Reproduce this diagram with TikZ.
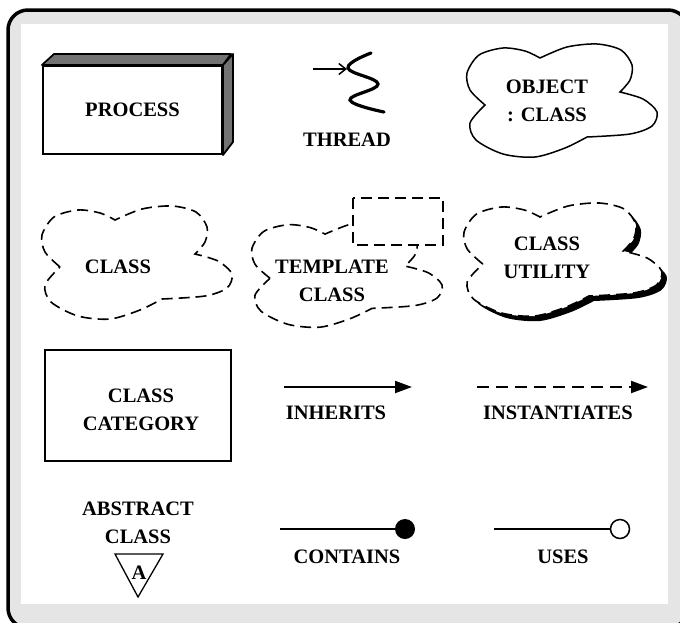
\documentclass[tikz,border=0pt]{standalone}
\usepackage{fontspec}
\setmainfont{Liberation Serif}
\usetikzlibrary{arrows.meta}

\tikzset{
    lbl/.style={font=\fontsize{20.5}{28}\selectfont\bfseries, align=center, inner sep=0pt},
    solidline/.style={line width=1.5pt},
    dashline/.style={line width=1.6pt, dash pattern=on 11pt off 6pt},
    booch cloud/.pic={
        \path[pic actions] plot[smooth] coordinates {(20,62) (5,47) (2,30) (14,12) (38,5) (60,8) (75,15)}
            -- plot[smooth] coordinates {(75,15) (102,4) (132,1) (156,7) (167,22) (165,37) (155,49)}
            -- plot[smooth] coordinates {(155,49) (178,56) (192,69) (187,83) (165,91) (122,94)}
            -- plot[smooth] coordinates {(122,94) (100,105) (70,114) (38,111) (11,97) (5,80) (20,62)} -- cycle;
    }
}

\begin{document}
\begin{tikzpicture}[x=1pt, y=-1pt]
                \useasboundingbox (0,0) rectangle (680,622);
                \clip (0,0) rectangle (680,622);
                \draw[line width=3.5pt, fill=black!10, rounded corners=20pt] (8,10) rectangle (688,628);
                \fill[white] (21,24) rectangle (668,604);
                % process
                \node[draw, line width=2pt, minimum width=179pt, minimum height=88pt, lbl] (process) at (132.5,110) {PROCESS};
                \draw[line width=1.8pt, fill=black!55, line join=round] (process.north west) -- ++(12,-11) -- ++(177,0) -- (process.north east) -- cycle;
                \draw[line width=1.8pt, fill=black!55, line join=round] (process.north east) -- ++(10,-11) -- ++(0,88) -- (process.south east) -- cycle;
                % thread
                \coordinate (thrTail) at (313,69);
                \coordinate (thrHead) at (347,69);
                \draw[line width=1.5pt, -{Straight Barb[length=7pt,width=11pt]}] (thrTail) -- (thrHead);
                \draw[line width=3.2pt, line cap=round] plot[smooth, tension=0.7] coordinates {(371,53) (348,68) (378,84) (350,100) (384,112)};
                \node[lbl] (thread) at (347,140) {THREAD};
                % object
                \pic[draw, solidline] at (465,43) {booch cloud};
                \node[lbl] (object) at (547,101) {OBJECT\\: CLASS};
                % class
                \pic[draw, dashline] at (40,205) {booch cloud};
                \node[lbl] (class) at (118,267) {CLASS};
                % template class
                \pic[draw, dashline, yscale=0.94] at (250,220) {booch cloud};
                \draw[dashline, fill=white] (353,198) rectangle (443,245);
                \node[lbl] (template) at (332,281) {TEMPLATE\\CLASS};
                % class utility
                \pic[fill=black, xscale=1.04] at (467,207) {booch cloud};
                \pic[draw, fill=white, dashline, xscale=1.04] at (462,202) {booch cloud};
                \node[lbl] (utility) at (547,258) {CLASS\\UTILITY};
                % class category
                \node[draw, line width=2pt, minimum width=186pt, minimum height=111pt] (category) at (138,405.5) {};
                \node[lbl] (catlbl) at (141,410) {CLASS\\CATEGORY};
                % inherits, instantiates
                \coordinate (inhS) at (284,387);
                \coordinate (inhE) at (412,387);
                \draw[line width=2pt, -{Triangle[length=17pt,width=12pt]}] (inhS) -- (inhE);
                \node[lbl] (inherits) at (336,413) {INHERITS};
                \coordinate (insS) at (477,387);
                \coordinate (insE) at (648,387);
                \draw[line width=2pt, dash pattern=on 12pt off 7pt, -{Triangle[length=17pt,width=12pt]}] (insS) -- (insE);
                \node[lbl] (instantiates) at (558,413) {INSTANTIATES};
                % abstract class
                \node[lbl] (abstract) at (138,522.5) {ABSTRACT\\CLASS};
                \draw[line width=1.3pt, line join=miter] (115,554) -- (163,554) -- (138,597) -- cycle;
                \node[lbl] (absA) at (139,573) {A};
                % contains, uses
                \node[circle, fill=black, minimum size=20pt, inner sep=0pt] (conDot) at (405,529) {};
                \coordinate (conS) at (280,529);
                \draw[line width=2pt] (conS) -- (conDot);
                \node[lbl] (contains) at (347,557) {CONTAINS};
                \node[circle, draw, line width=1.5pt, fill=white, minimum size=19pt, inner sep=0pt] (useDot) at (620,529) {};
                \coordinate (useS) at (494,529);
                \draw[line width=2pt] (useS) -- (useDot);
                \node[lbl] (uses) at (563,557) {USES};
\end{tikzpicture}
\end{document}
